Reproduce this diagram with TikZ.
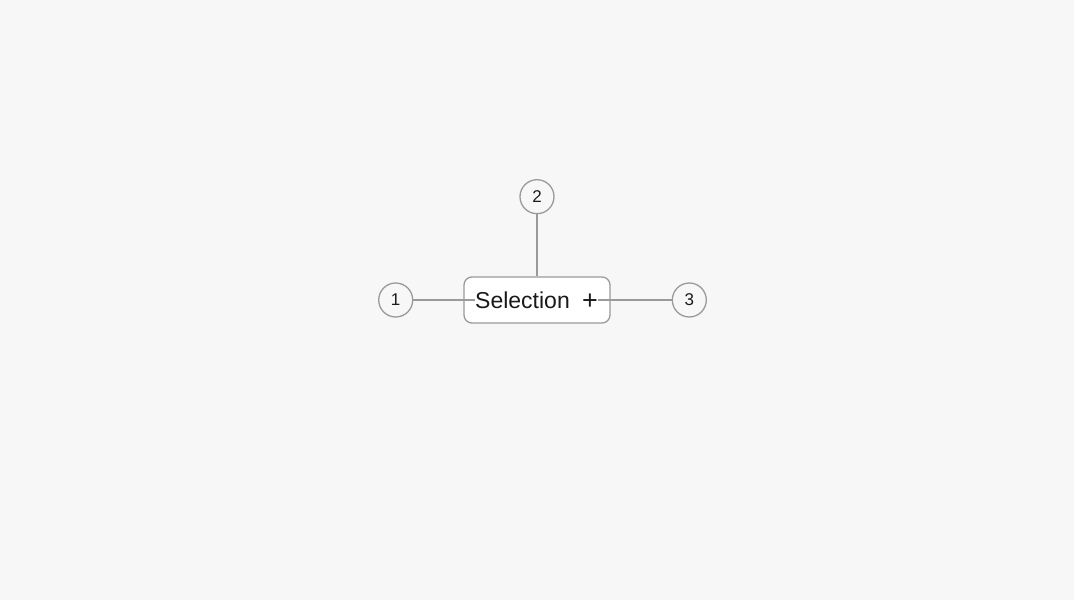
\documentclass[tikz,border=0pt]{standalone}
\usepackage{fontspec}
\setmainfont{Liberation Sans}
\usetikzlibrary{positioning}

\definecolor{bgcol}{HTML}{F7F7F7}
\definecolor{linecol}{HTML}{9A9A9A}
\definecolor{textcol}{HTML}{1A1A1A}

\begin{document}
\begin{tikzpicture}[x=1pt, y=1pt]
    % Define styles
    \tikzset{
        selbox/.style={draw=linecol, line width=1.3pt, fill=white, rounded corners=8pt,
                       minimum width=146pt, minimum height=46pt},
        marker/.style={circle, draw=linecol, line width=1.3pt, fill=bgcol, minimum size=34pt,
                       inner sep=0pt, font=\fontsize{17}{17}\selectfont, text=textcol},
        leader/.style={draw=linecol, line width=1.3pt}
    }

    \fill[bgcol] (0,0) rectangle (1074,600);
    \useasboundingbox (0,0) rectangle (1074,600);

    % Selection box
    \node[selbox] (box) at (537,300) {};
    \node[anchor=west, inner sep=0pt, text=textcol, font=\fontsize{23}{23}\selectfont] (sel) at (475,300) {Selection};
    \node[inner sep=0pt, text=textcol, font=\fontsize{27}{27}\selectfont] (plus) at (590,298) {+};

    % Markers
    \node[marker, left=50pt of box] (m1) {1};
    \node[marker, above=62pt of box] (m2) {2};
    \node[marker, right=61pt of box] (m3) {3};

    % Leaders
    \draw[leader] (m1.east) -- (sel.west);
    \draw[leader] (m2.south) -- (box.north);
    \draw[leader] (m3.west) -- (plus.east |- box.center);
\end{tikzpicture}
\end{document}
